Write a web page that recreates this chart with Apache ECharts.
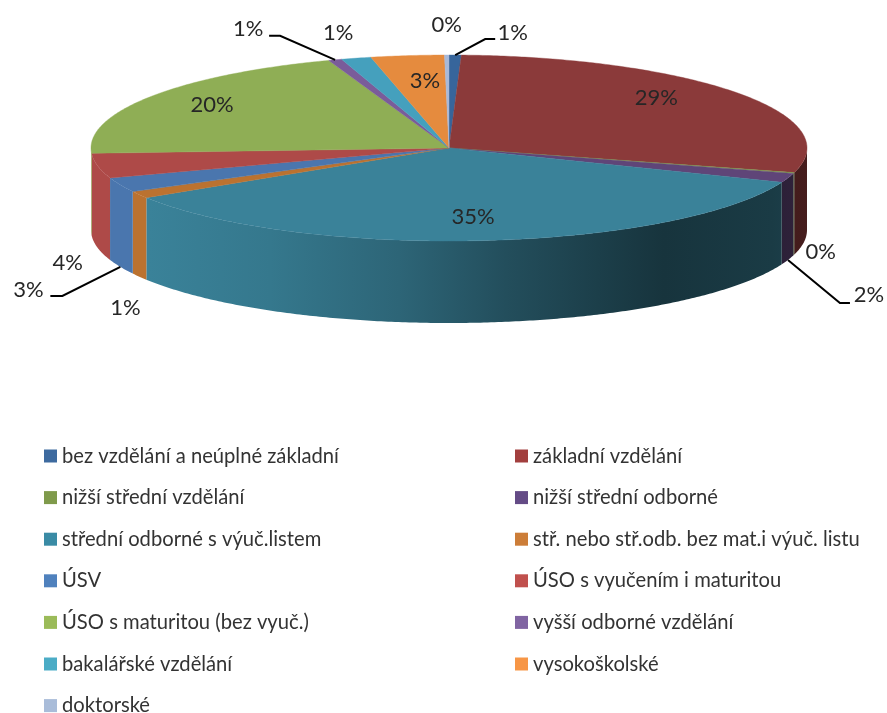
<!DOCTYPE html>
<html>
<head>
<meta charset="utf-8">
<style>
  html, body { margin: 0; padding: 0; background: #fff; }
  #main { width: 887px; height: 713px; }
</style>
</head>
<body>
<div id="main"></div>
<script src="https://cdn.jsdelivr.net/npm/echarts@6/dist/echarts.min.js"></script>
<script>
// categories in the order of the slices, clockwise from 12 o'clock
const categories = [
  'bez vzdělání a neúplné základní', 'základní vzdělání', 'nižší střední vzdělání',
  'nižší střední odborné', 'střední odborné s výuč.listem', 'stř. nebo stř.odb. bez mat.i výuč. listu',
  'ÚSV', 'ÚSO s vyučením i maturitou', 'ÚSO s maturitou (bez vyuč.)',
  'vyšší odborné vzdělání', 'bakalářské vzdělání', 'vysokoškolské', 'doktorské'
]
// percent shares
const shares = [0.55, 28.7, 0.15, 1.6, 35.0, 1.2, 2.55, 4.3, 20.45, 0.6, 1.35, 3.3, 0.2]

const legendColors = ['#3d6a9f', '#a23f3e', '#7f9a4b', '#644b86', '#3a8ba5', '#cc7d38', '#4f81bd', '#c0504d', '#9bbb59', '#8064a2', '#4bacc6', '#f79646', '#a9bcd9']
const topColors = ['#37659b', '#8b3a3a', '#7f9a4b', '#5f4578', '#3a8299', '#bb7230', '#4a76ae', '#ae4a48', '#8fae55', '#7a5c9a', '#45a0bd', '#e58b3e', '#a8b9d8']

// label offset from the slice's rim midpoint
const labelOffsets = [
  [57.5, -22], [-81, 5], [27, 78.7], [81, 117], [-9, -24], [-14, 113], [-92, 105],
  [-30, 97], [61.5, 8], [-87, -31], [-18, -25.5], [17.4, 25], [0, -30]
]
// leader lines: elbow and end, offset from the rim midpoint
const leaders = {
  0: [[30, -16], [40, -16]],
  3: [[52, 125], [62, 125]],
  6: [[-58, 111], [-70, 111]],
  9: [[-55, -24], [-66, -24]]
}

const cx = 449, cy = 148, rx = 358, ry = 93, depth = 82
// wall darkening from the left to the right edge of the pie
const wallShade = [[0, 1], [0.08, 1], [0.25, 0.92], [0.43, 0.78], [0.58, 0.6], [0.8, 0.4], [0.95, 0.45], [1, 0.5]]

const total = shares.reduce((a, b) => a + b, 0)
const starts = []
shares.reduce((sum, v, i) => { starts[i] = sum; return sum + v }, 0)

function toAngle (share) {
  return share / total * Math.PI * 2
}
function rim (a) {
  return [cx + rx * Math.sin(a), cy - ry * Math.cos(a)]
}
function shade (hex, f) {
  const n = parseInt(hex.slice(1), 16)
  const c = [n >> 16, (n >> 8) & 255, n & 255].map(v => Math.round(v * f))
  return 'rgb(' + c.join(',') + ')'
}
function arc (a0, a1) {
  const steps = Math.max(2, Math.ceil((a1 - a0) / 0.01))
  const pts = []
  for (let i = 0; i <= steps; i++) pts.push(rim(a0 + (a1 - a0) * i / steps))
  return pts
}

function renderSlice (params, api) {
  const i = params.seriesIndex
  const a0 = toAngle(starts[i])
  const a1 = a0 + toAngle(api.value(0))
  const mid = (a0 + a1) / 2
  const anchor = rim(mid)
  const children = []

  // outer wall, only the part on the front half
  const w0 = Math.max(a0, Math.PI / 2)
  const w1 = Math.min(a1, Math.PI * 1.5)
  if (w1 > w0) {
    const edge = arc(w0, w1)
    const lower = edge.map(p => [p[0], p[1] + depth]).reverse()
    children.push({
      type: 'polygon',
      shape: { points: edge.concat(lower) },
      style: {
        fill: new echarts.graphic.LinearGradient(cx - rx, 0, cx + rx, 0,
          wallShade.map(s => ({ offset: s[0], color: shade(topColors[i], s[1]) })), true)
      }
    })
  }

  // top face
  const top = [[cx, cy]].concat(arc(a0, a1))
  children.push({
    type: 'polygon',
    shape: { points: top },
    style: { fill: topColors[i], stroke: topColors[i], lineWidth: 0.4 }
  })

  if (leaders[i]) {
    const front = Math.cos(mid) < 0 ? depth : 0
    children.push({
      type: 'polyline',
      shape: {
        points: [[anchor[0], anchor[1] + front]].concat(leaders[i].map(p => [anchor[0] + p[0], anchor[1] + p[1]]))
      },
      style: { stroke: '#000', lineWidth: 2, fill: null }
    })
  }

  children.push({
    type: 'text',
    style: {
      text: Math.round(api.value(0) / total * 100) + '%',
      x: anchor[0] + labelOffsets[i][0],
      y: anchor[1] + labelOffsets[i][1],
      textAlign: 'center',
      textVerticalAlign: 'middle',
      font: '22px Lato',
      fill: '#262626'
    }
  })
  return { type: 'group', children: children }
}

function legendColumn (left, names) {
  return {
    left: left,
    top: 446,
    height: 290,
    padding: 0,
    orient: 'vertical',
    selectedMode: false,
    icon: 'rect',
    itemWidth: 13,
    itemHeight: 13,
    itemGap: 21.6,
    textStyle: { fontFamily: 'Lato', fontSize: 20.2, lineHeight: 20, color: '#333' },
    data: names
  }
}

const myChart = echarts.init(document.getElementById('main'))
myChart.setOption({
  animation: false,
  backgroundColor: '#fff',
  legend: [
    legendColumn(44, categories.filter((v, i) => i % 2 === 0)),
    legendColumn(515, categories.filter((v, i) => i % 2 === 1))
  ],
  series: categories.map((name, i) => ({
    type: 'custom',
    name: name,
    coordinateSystem: 'none',
    silent: true,
    itemStyle: { color: legendColors[i] },
    renderItem: renderSlice,
    data: [[shares[i]]]
  }))
})
</script>
</body>
</html>
